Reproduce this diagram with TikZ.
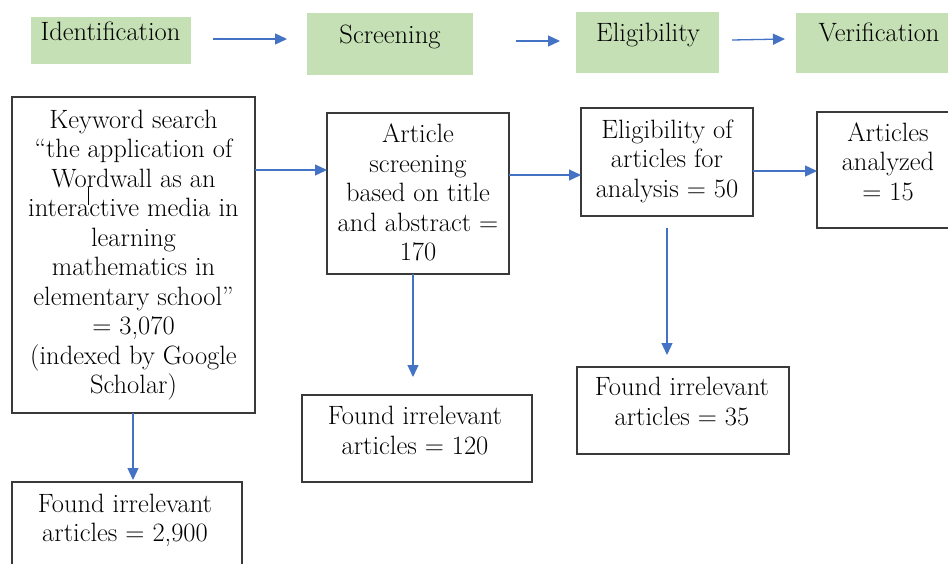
\documentclass[tikz,border=0pt]{standalone}
\usetikzlibrary{arrows.meta}
\definecolor{hdrgreen}{HTML}{C5E0B4}
\definecolor{arrblue}{HTML}{4472C4}
\definecolor{boxline}{HTML}{3A3A3A}
\newcommand\tlines[1]{\begin{tabular}{@{}c@{}}#1\end{tabular}}
\begin{document}
\begin{tikzpicture}[x=1pt, y=-1pt,
  every node/.style={font=\fontsize{26.5}{29.5}\selectfont, inner sep=0pt, outer sep=0pt},
  hdrbox/.style={fill=hdrgreen, draw=none},
  flowbox/.style={draw=boxline, line width=1.1pt, fill=white},
  txt/.style={text=black},
  arr/.style={draw=arrblue, line width=1.3pt, -{Triangle[length=12pt,width=11pt]}}]
\useasboundingbox (0,0) rectangle (948,563);
\fill[white] (0,0) rectangle (948,563);

% header row
\node[hdrbox, minimum width=160pt, minimum height=47pt] (id) at (111,40.5) {};
\node[txt] (idt) at (110.5,35) {\tlines{Identification}};
\node[hdrbox, minimum width=166pt, minimum height=62pt] (scr) at (390,44) {};
\node[txt] (scrt) at (390,38) {\tlines{Screening}};
\node[hdrbox, minimum width=143pt, minimum height=61pt] (eli) at (647.5,42.5) {};
\node[txt] (elit) at (648,36) {\tlines{Eligibility}};
\node[hdrbox, minimum width=166pt, minimum height=60pt] (ver) at (879,43) {};
\node[txt] (vert) at (879,36) {\tlines{Verification}};

\draw[arr] ([xshift=22pt,yshift=1.5pt]id.east) -- ([xshift=-20pt,yshift=5pt]scr.west);
\draw[arr] ([xshift=43pt,yshift=3pt]scr.east) -- ([xshift=-16pt,yshift=1.5pt]eli.west);
\draw[arr] ([xshift=13pt,yshift=2.5pt]eli.east) -- ([xshift=-11pt,yshift=4pt]ver.west);

% flow boxes
\node[flowbox, minimum width=243pt, minimum height=316pt] (kw) at (133.5,255) {};
\node[txt] (kwt) at (133.5,255) {\tlines{Keyword search\\“the application of\\Wordwall as an\\interactive media in\\learning\\mathematics in\\elementary school”\\= 3,070\\(indexed by Google\\Scholar)}};
\draw[black, line width=0.8pt] (88,187) -- (88,205);

\node[flowbox, minimum width=182pt, minimum height=161pt] (art) at (418,193.5) {};
\node[txt] (artt) at (418,196) {\tlines{Article\\screening\\based on title\\and abstract =\\170}};

\node[flowbox, minimum width=172pt, minimum height=108pt] (elg) at (667,162) {};
\node[txt] (elgt) at (667,162) {\tlines{Eligibility of\\articles for\\analysis = 50}};

\node[flowbox, minimum width=142pt, minimum height=116pt] (ana) at (888,170) {};
\node[txt] (anat) at (888,165) {\tlines{Articles\\analyzed\\= 15}};

\node[flowbox, minimum width=230pt, minimum height=88pt] (f1) at (127,526) {};
\node[txt] (f1t) at (125,521) {\tlines{Found irrelevant\\articles = 2,900}};

\node[flowbox, minimum width=230pt, minimum height=87pt] (f2) at (417,438.5) {};
\node[txt] (f2t) at (415,433.5) {\tlines{Found irrelevant\\articles = 120}};

\node[flowbox, minimum width=212pt, minimum height=87pt] (f3) at (683,410.5) {};
\node[txt] (f3t) at (682,404.5) {\tlines{Found irrelevant\\articles = 35}};

% connectors
\draw[arr] (kw.east |- 0,170) -- (art.west |- 0,170);
\draw[arr] (art.east |- 0,175) -- (elg.west |- 0,175);
\draw[arr] (elg.east |- 0,171) -- (ana.west |- 0,171);
\draw[arr, shorten >=2pt] (133,0 |- kw.south) -- (133,0 |- f1.north);
\draw[arr, shorten >=18pt] (413,0 |- art.south) -- (413,0 |- f2.north);
\draw[arr, shorten <=12pt, shorten >=12pt] (elg.south) -- (elg.south |- f3.north);
\end{tikzpicture}
\end{document}
